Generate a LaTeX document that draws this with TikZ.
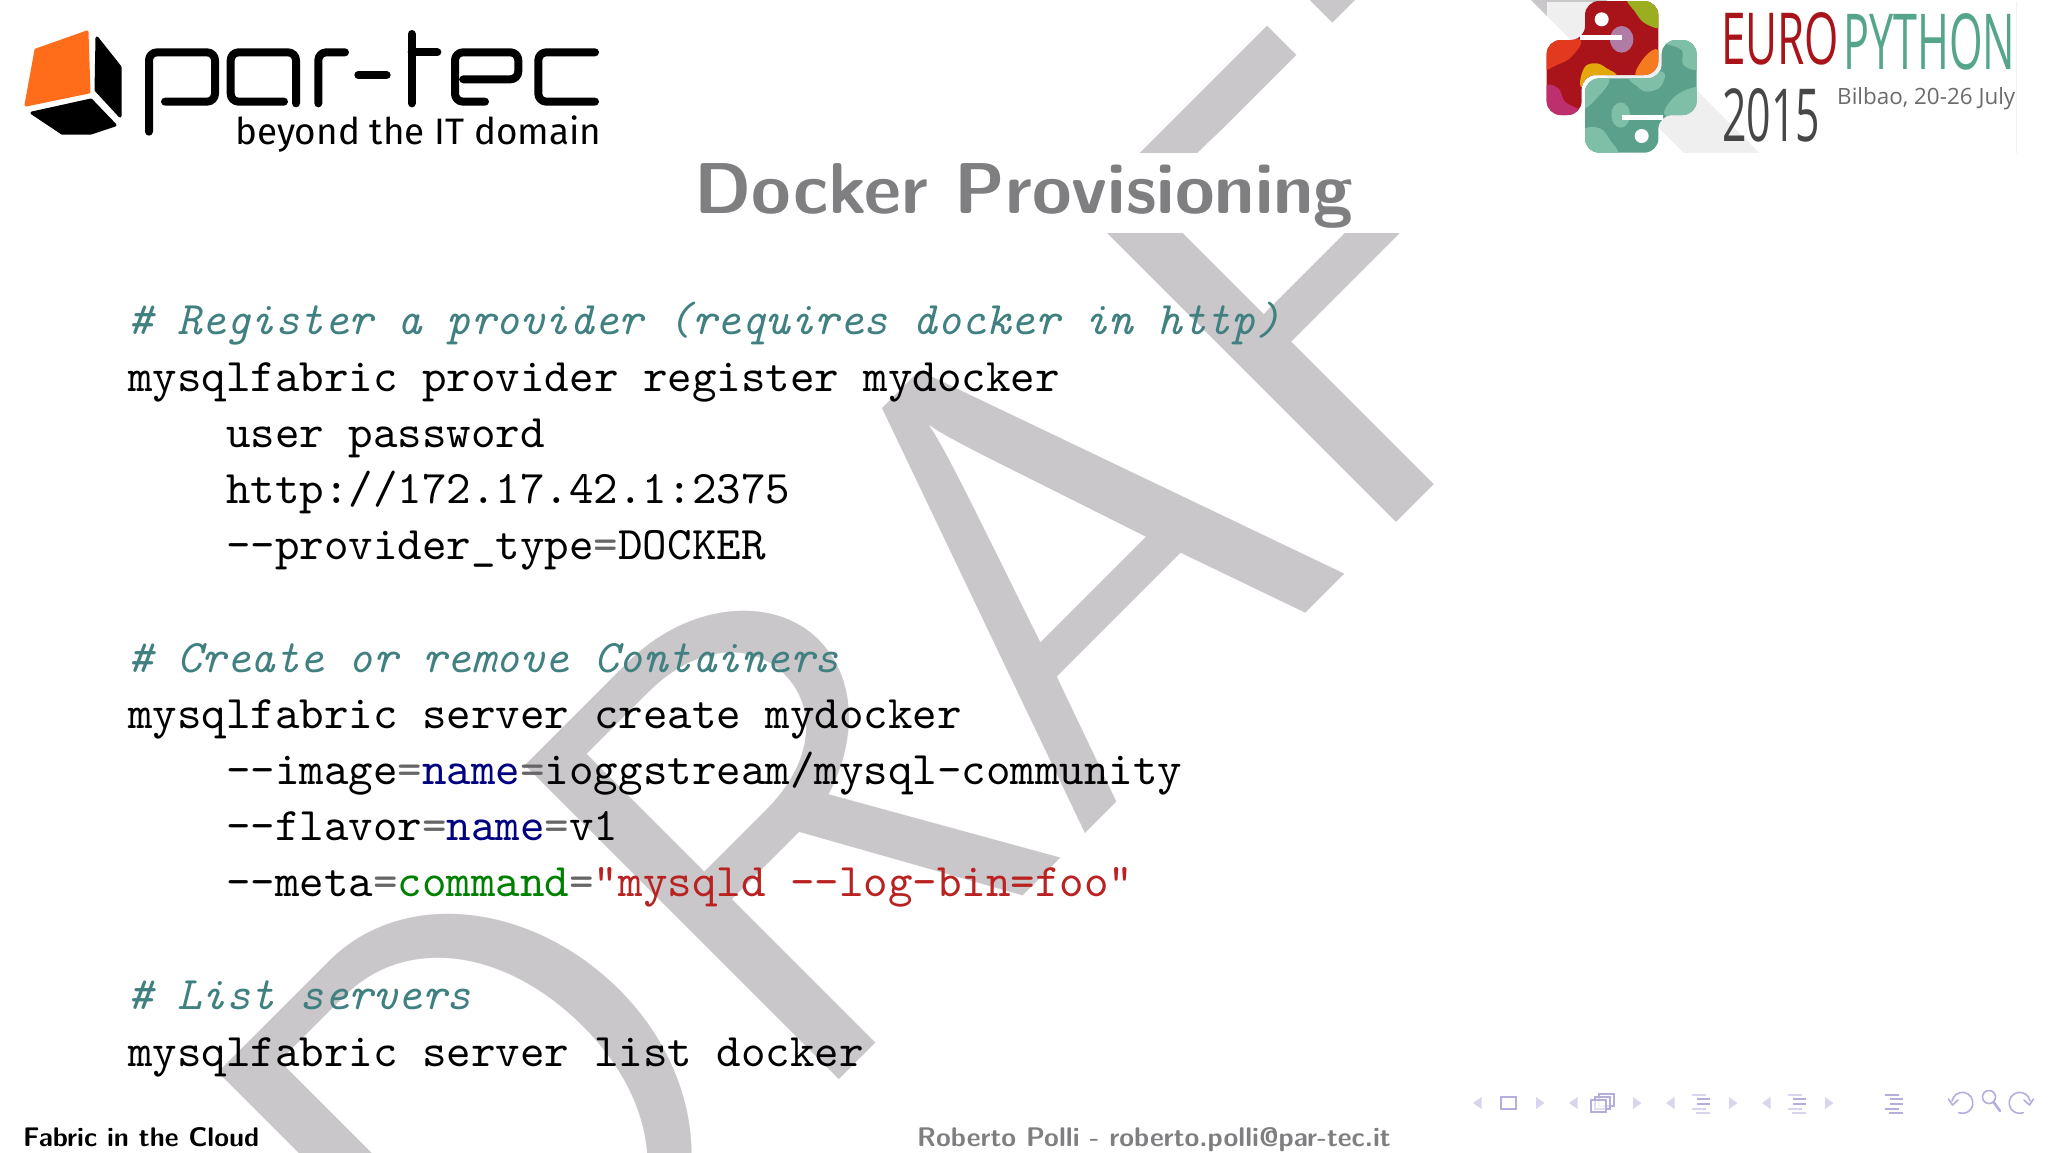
\documentclass[tikz,border=0pt]{standalone}
\usepackage{graphicx}
\usepackage{fontspec}
\setmainfont{Latin Modern Roman}
\newfontfamily\wmfont[Extension=.otf]{lmsans10-regular}
\newfontfamily\ssbold[Extension=.otf]{lmsans10-bold}
\newfontfamily\mono[Extension=.otf,Ligatures=NoCommon]{lmmono10-regular}
\newfontfamily\monoit[Extension=.otf,Ligatures=NoCommon]{lmmono10-italic}
\newfontfamily\logofont{Fira Sans}
\newfontfamily\euofont{Open Sans}
\definecolor{wm}{HTML}{C9C7C9}
\definecolor{cmt}{HTML}{408080}
\definecolor{op}{HTML}{666666}
\definecolor{nb}{HTML}{000080}
\definecolor{gn}{HTML}{008000}
\definecolor{rd}{HTML}{BA2121}
\definecolor{ttl}{HTML}{7F7F82}
\definecolor{navd}{HTML}{B4AEDC}
\definecolor{navl}{HTML}{D8D5EE}
\definecolor{ored}{HTML}{FF6C1A}
\definecolor{pred}{HTML}{A9141B}
\definecolor{pgrn}{HTML}{5AA08A}
\definecolor{pgrl}{HTML}{7FBFA8}
\definecolor{etxtg}{HTML}{55A58C}
\tikzset{
 code/.style={anchor=base west,inner sep=0pt,font=\mono\fontsize{46.7}{56}\selectfont},
 cmtline/.style={code,text=cmt,font=\monoit\fontsize{46.7}{56}\selectfont},
 footer/.style={anchor=base west,inner sep=0pt,font=\ssbold\fontsize{26.9}{28}\selectfont},
 navtri/.style={fill=navl,draw=none},
 navbox/.style={draw=navd,line width=1.8pt,fill=white,fill opacity=.6},
 navarc/.style={draw=navd,line width=1.6pt,line cap=round,line join=round},
 wordmark/.style={draw=black,line width=8pt,line cap=round,line join=round,rounded corners=8pt},
 cube/.style={line join=round,line width=3pt},
 blob/.style={smooth cycle,tension=.6},
}
\newcommand{\eqg}{\textcolor{op}{=}}
\newcommand{\navL}[1]{\fill[navtri] (#1+8.5,1097) -- (#1,1103) -- (#1+8.5,1109) -- cycle;}
\newcommand{\navR}[1]{\fill[navtri] (#1,1097) -- (#1+8.5,1103) -- (#1,1109) -- cycle;}
\newcommand{\navLines}[3]{%
 \fill[#2] (#1,1093.5) rectangle +(14,2);
 \fill[#3] (#1+5,1098) rectangle +(13,2.4);
 \fill[#3] (#1+5,1103) rectangle +(13,2.4);
 \fill[#2] (#1,1107.5) rectangle +(14,2);
 \fill[#2] (#1+4,1112) rectangle +(14,2);}
\begin{document}
\begin{tikzpicture}[x=1pt,y=-1pt]
\useasboundingbox (0,0) rectangle (2048,1152);
\fill[white] (0,0) rectangle (2048,1152);
% watermark
\begin{scope}
\clip (0,0) rectangle (2048,1152);
\node[rotate=45,xscale=.94,anchor=base,inner sep=0pt,text=wm,font=\wmfont\fontsize{640}{640}\selectfont] (wmark) at (1190,729) {DRAFT};
\end{scope}
\fill[white] (0,153) rectangle (2048,233);
% par-tec logo
\fill[white] (0,0) rectangle (620,153);
\filldraw[ored,cube] (36,50) -- (87,32) -- (89,92) -- (26,105) -- cycle;
\filldraw[black,cube] (97,38) -- (120,67) -- (120,116) -- (96,90) -- cycle;
\filldraw[black,cube] (32,113) -- (91,100) -- (115,125) -- (91,133) -- (62,133) -- cycle;
\begin{scope}[shift={(130,20)},x=.33333pt,y=-.33333pt]
\draw[wordmark] (57,335) -- (57,97) -- (255,97) -- (255,245) -- (105,245);
\draw[wordmark] (462,245) -- (302,245) -- (302,97) -- (498,97) -- (498,250);
\draw[wordmark] (565,250) -- (565,97) -- (645,97);
\draw[wordmark] (685,165) -- (770,165);
\draw[wordmark] (845,42) -- (845,250);
\draw[wordmark] (845,97) -- (922,97);
\draw[wordmark] (1065,245) -- (975,245) -- (975,97) -- (1165,97) -- (1165,178) -- (1000,178);
\draw[wordmark] (1395,97) -- (1225,97) -- (1225,245) -- (1395,245);
\end{scope}
\node[anchor=base west,inner sep=0pt] (tagline) at (235,144) {\resizebox{366pt}{!}{\logofont beyond the IT domain}};
% EuroPython logo: veil over the watermark
\fill[white,fill opacity=.72] (1547,2) rectangle (2016,153);
\draw[black!6,line width=.8pt] (2016,2) -- (2016,153);
\begin{scope}[shift={(1530,0)},x=.33333pt,y=-.33333pt]
\begin{scope}
\clip[rounded corners=14pt] (165,3) -- (385,3) -- (385,225) -- (155,225) -- (155,345) -- (50,345) -- (50,120) -- (165,120) -- cycle;
\fill[pred] (40,0) rectangle (400,350);
\fill[fill={rgb,255:red,154;green,174;blue,31}] plot[blob] coordinates {(295,-5) (315,35) (345,70) (395,80) (400,-5)};
\fill[fill={rgb,255:red,176;green,123;blue,164}] (275,118) ellipse [x radius=35,y radius=40];
\fill[fill={rgb,255:red,226;green,57;blue,31}] plot[blob] coordinates {(40,115) (150,118) (125,170) (80,195) (40,205)};
\fill[fill={rgb,255:red,227;green,169;blue,12}] plot[blob] coordinates {(150,250) (165,200) (200,190) (230,205) (258,230) (170,262)};
\fill[fill={rgb,255:red,244;green,123;blue,32}] plot[blob] coordinates {(318,228) (345,170) (385,150) (400,228)};
\fill[fill={rgb,255:red,190;green,47;blue,110}] plot[blob] coordinates {(45,260) (85,265) (105,305) (150,330) (162,352) (45,352)};
\end{scope}
\fill[white] (150,105) rectangle (275,120);
\fill[white] (215,58) circle [radius=7pt];
\begin{scope}
\clip[rounded corners=14pt] (395,120) -- (500,120) -- (500,345) -- (385,345) -- (385,458) -- (165,458) -- (165,235) -- (395,235) -- cycle;
\fill[pgrn] (160,115) rectangle (505,462);
\fill[pgrl] plot[blob] coordinates {(400,115) (405,130) (455,150) (460,195) (510,205) (510,115)};
\fill[pgrl] plot[blob] coordinates {(510,265) (440,285) (405,345) (510,350)};
\fill[pgrl] plot[blob] coordinates {(300,232) (398,215) (392,260) (350,275) (320,258)};
\fill[pgrl] (272,345) ellipse [x radius=28,y radius=38];
\fill[pgrl] plot[blob] coordinates {(160,390) (210,385) (240,420) (262,465) (160,465)};
\fill[pgrl] plot[blob] coordinates {(160,320) (195,300) (238,238) (160,230)};
\end{scope}
\fill[white] (275,345) rectangle (400,360);
\fill[white] (335,408) circle [radius=7pt];
\end{scope}
\node[anchor=south west,inner sep=0pt,text=pred] (euro) at (1721,65) {\resizebox{118pt}{52pt}{\euofont EURO}};
\node[anchor=south west,inner sep=0pt,text=etxtg] (python) at (1843,70) {\resizebox{172pt}{56pt}{\euofont PYTHON}};
\node[anchor=south west,inner sep=0pt,text=black!72] (year) at (1722,142) {\resizebox{98pt}{53pt}{\euofont 2015}};
\node[anchor=base west,inner sep=0pt,text=black!58] (place) at (1837,104) {\resizebox{178pt}{!}{\euofont Bilbao, 20-26 July}};
% title and body
\node[anchor=base,inner sep=0pt,text=ttl,font=\ssbold\fontsize{72}{72}\selectfont] (title) at (1024,213) {Docker Provisioning};
\node[cmtline] (c1) at (128,334.5) {\# Register a provider (requires docker in http)};
\node[code] (l1) at (128,391) {mysqlfabric provider register mydocker};
\node[code] (l2) at (226,447) {user password};
\node[code] (l3) at (226,503) {http://172.17.42.1:2375};
\node[code] (l4) at (226,559) {--provider\_type\eqg DOCKER};
\node[cmtline] (c2) at (128,672) {\# Create or remove Containers};
\node[code] (l5) at (128,728) {mysqlfabric server create mydocker};
\node[code] (l6) at (226,784) {--image\eqg\textcolor{nb}{name}\eqg ioggstream/mysql-community};
\node[code] (l7) at (226,840) {--flavor\eqg\textcolor{nb}{name}\eqg v1};
\node[code] (l8) at (226,896.5) {--meta\eqg\textcolor{gn}{command}\eqg\textcolor{rd}{"mysqld --log-bin=foo"}};
\node[cmtline] (c3) at (128,1009) {\# List servers};
\node[code] (l9) at (128,1066) {mysqlfabric server list docker};
\node[footer] (foot1) at (23,1146) {Fabric in the Cloud};
\node[footer,text=ttl] (foot2) at (917,1146) {Roberto Polli - roberto.polli@par-tec.it};
% navigation symbols
\navL{1473}\navR{1536}\navL{1569}\navR{1633}\navL{1666}\navR{1729}\navL{1762}\navR{1825}
\draw[navbox] (1501,1097) rectangle (1516,1109);
\draw[navbox] (1599,1094) rectangle (1614,1106);
\draw[navbox] (1595,1097) rectangle (1610,1109);
\draw[navbox] (1591,1100) rectangle (1606,1112);
\navLines{1692}{navl}{navd}
\navLines{1788}{navl}{navd}
\navLines{1885}{navd}{navd}
\draw[navarc] (1952,1101) arc [start angle=-170,end angle=110,radius=10.5];
\draw[navarc] (1948.5,1099) -- (1952.5,1105) -- (1958,1100);
\draw[navarc] (1989,1097) circle [radius=6.5];
\draw[navarc,line width=2.6pt] (1993.5,1102) -- (2000,1111);
\draw[navarc] (2030,1101) arc [start angle=-10,end angle=-290,radius=10.5];
\draw[navarc] (2033.5,1099) -- (2029.5,1105) -- (2024,1100);
\end{tikzpicture}
\end{document}
